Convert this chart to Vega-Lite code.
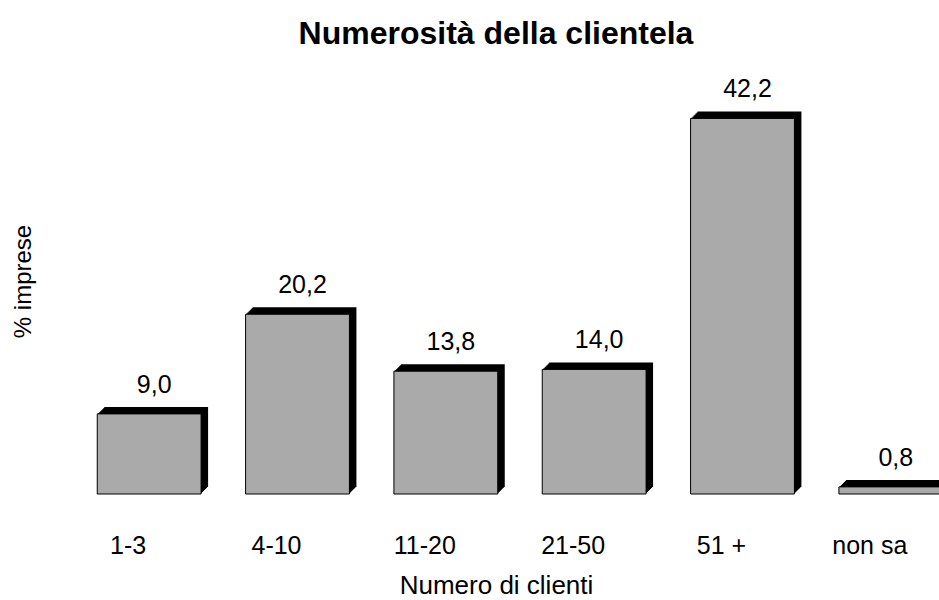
{
  "$schema": "https://vega.github.io/schema/vega-lite/v6.json",
  "autosize": {"type": "none"},
  "padding": {"left": 75, "top": 49, "right": 22, "bottom": 106},
  "width": 842,
  "height": 445,
  "background": "white",
  "title": {
    "text": "Numerosità della clientela",
    "font": "Liberation Sans",
    "fontSize": 32,
    "fontWeight": "bold",
    "color": "black",
    "anchor": "middle",
    "frame": "group",
    "baseline": "alphabetic",
    "offset": 4,
    "dy": 31
  },
  "config": {
    "locale": {"number": {"decimal": ",", "thousands": ".", "grouping": [3], "currency": ["€", ""]}},
    "view": {"stroke": null},
    "font": "Liberation Sans"
  },
  "data": {
    "values": [
      {"clienti": "1-3", "quota": 9.0},
      {"clienti": "4-10", "quota": 20.2},
      {"clienti": "11-20", "quota": 13.8},
      {"clienti": "21-50", "quota": 14.0},
      {"clienti": "51 +", "quota": 42.2},
      {"clienti": "non sa", "quota": 0.8}
    ]
  },
  "encoding": {
    "x": {
      "field": "clienti",
      "type": "nominal",
      "sort": null,
      "scale": {"range": [0, 890], "paddingInner": 0.3, "paddingOuter": 0.15},
      "axis": {
        "title": "Numero di clienti",
        "titleFont": "Liberation Sans",
        "titleFontSize": 26,
        "titleFontWeight": "normal",
        "titleColor": "black",
        "titleX": 421,
        "titleY": 99,
        "titleBaseline": "alphabetic",
        "titleAlign": "center",
        "labelFont": "Liberation Sans",
        "labelFontSize": 25,
        "labelColor": "black",
        "labelAngle": 0,
        "labelOffset": -21,
        "labelBaseline": "alphabetic",
        "labelPadding": 59,
        "ticks": false,
        "tickSize": 0,
        "domain": false,
        "grid": false
      }
    },
    "y": {
      "field": "quota",
      "type": "quantitative",
      "scale": {"domain": [0, 50]},
      "axis": {
        "title": "% imprese",
        "titleFont": "Liberation Sans",
        "titleFontSize": 24,
        "titleFontWeight": "normal",
        "titleColor": "black",
        "titleX": -52,
        "titleY": 232,
        "titleAngle": -90,
        "titleBaseline": "middle",
        "titleAlign": "center",
        "labels": false,
        "ticks": false,
        "domain": false,
        "grid": false
      }
    }
  },
  "layer": [
    {"mark": {"type": "bar", "color": "black", "xOffset": 1, "yOffset": -1, "y2Offset": -1}},
    {"mark": {"type": "bar", "color": "black", "xOffset": 2, "yOffset": -2, "y2Offset": -2}},
    {"mark": {"type": "bar", "color": "black", "xOffset": 3, "yOffset": -3, "y2Offset": -3}},
    {"mark": {"type": "bar", "color": "black", "xOffset": 4, "yOffset": -4, "y2Offset": -4}},
    {"mark": {"type": "bar", "color": "black", "xOffset": 5, "yOffset": -5, "y2Offset": -5}},
    {"mark": {"type": "bar", "color": "black", "xOffset": 6, "yOffset": -6, "y2Offset": -6}},
    {"mark": {"type": "bar", "color": "black", "xOffset": 7, "yOffset": -7, "y2Offset": -7}},
    {"mark": {"type": "bar", "fill": "#aaaaaa", "stroke": "black", "strokeWidth": 1}},
    {
      "mark": {
        "type": "text",
        "font": "Liberation Sans",
        "fontSize": 25,
        "color": "black",
        "baseline": "alphabetic",
        "align": "center",
        "dx": 5,
        "dy": -21
      },
      "encoding": {"text": {"field": "quota", "type": "quantitative", "format": ".1f"}}
    }
  ]
}
